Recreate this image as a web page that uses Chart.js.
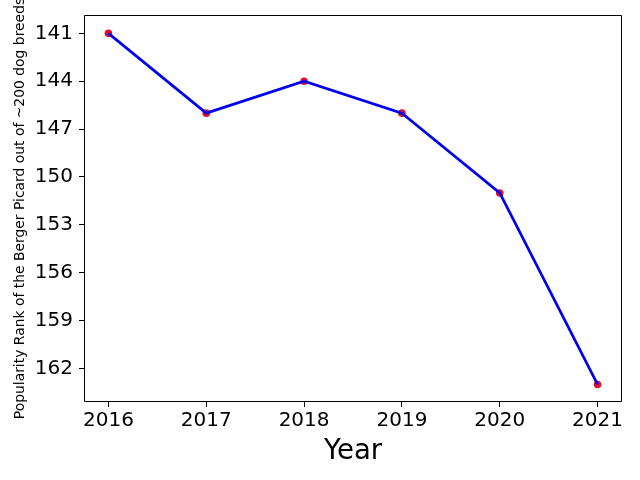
<!DOCTYPE html>
<html>
<head>
<meta charset="utf-8">
<script src="https://cdn.jsdelivr.net/npm/chart.js@4/dist/chart.umd.min.js"></script>
<style>
html,body{margin:0;padding:0;background:#fff;}
canvas{display:block;}
</style>
</head>
<body>
<canvas id="c" width="640" height="480"></canvas>
<script>
const years = [2016, 2017, 2018, 2019, 2020, 2021];
const ranks = [141, 146, 144, 146, 151, 163];
const yTicks = [141, 144, 147, 150, 153, 156, 159, 162];
const xTitle = 'Year';
const yTitle = 'Popularity Rank of the Berger Picard out of ~200 dog breeds';

const pts = years.map((y, i) => ({x: y, y: ranks[i]}));
const FONT = "'DejaVu Sans', sans-serif";

const frame = {
  id: 'frame',
  afterDatasetsDraw(chart) {
    const a = chart.chartArea, ctx = chart.ctx;
    const l = Math.round(a.left) + 0.5, r = Math.round(a.right) - 0.5;
    const t = Math.round(a.top) + 0.5, b = Math.round(a.bottom) - 0.5;
    ctx.save();
    ctx.strokeStyle = '#000';
    ctx.lineWidth = 1;
    ctx.beginPath();
    ctx.moveTo(l, b); ctx.lineTo(l, t); ctx.lineTo(r, t); ctx.lineTo(r, b); ctx.closePath();
    ctx.stroke();
    ctx.restore();
  }
};

new Chart(document.getElementById('c'), {
  type: 'line',
  data: {
    datasets: [
      {
        data: pts,
        borderColor: '#0000ee',
        borderWidth: 2.7,
        pointRadius: 0,
        fill: false,
        tension: 0,
        order: 1
      },
      {
        type: 'scatter',
        data: pts,
        showLine: false,
        pointRadius: 3.8,
        pointBackgroundColor: '#e0102a',
        pointBorderColor: '#e0102a',
        pointBorderWidth: 0,
        order: 2
      }
    ]
  },
  options: {
    responsive: false,
    animation: false,
    devicePixelRatio: 1,
    layout: {padding: {left: 0, top: 15, right: 18, bottom: 0}},
    plugins: {legend: {display: false}, tooltip: {enabled: false}},
    scales: {
      x: {
        type: 'linear',
        min: 2015.75,
        max: 2021.25,
        afterBuildTicks(s) { s.ticks = years.map(v => ({value: v})); },
        afterFit(s) { s.height = 78; s.paddingLeft = 0; s.paddingRight = 0; },
        grid: {display: true, drawOnChartArea: false, drawTicks: true, tickLength: 5, color: '#000', tickWidth: 1},
        border: {display: false},
        ticks: {color: '#000', font: {family: FONT, size: 20}, padding: 2, maxRotation: 0, autoSkip: false,
          callback: v => String(v)},
        title: {display: true, text: xTitle, color: '#000', font: {family: FONT, size: 27.5}, padding: {top: 0, bottom: 12}}
      },
      y: {
        type: 'linear',
        reverse: true,
        min: 139.85,
        max: 164.1,
        afterBuildTicks(s) { s.ticks = yTicks.map(v => ({value: v})); },
        afterFit(s) { s.width = 84; s.paddingTop = 0; s.paddingBottom = 0; },
        grid: {display: true, drawOnChartArea: false, drawTicks: true, tickLength: 5, color: '#000', tickWidth: 1},
        border: {display: false},
        ticks: {color: '#000', font: {family: FONT, size: 20}, padding: 6, autoSkip: false,
          callback: v => String(v)},
        title: {display: true, text: yTitle, color: '#000', font: {family: FONT, size: 13.9}, padding: {top: 12, bottom: 0}}
      }
    }
  },
  plugins: [frame]
});
</script>
</body>
</html>
